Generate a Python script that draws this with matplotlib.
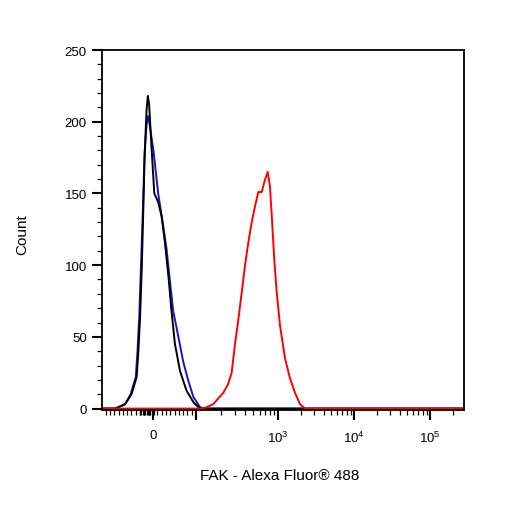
import numpy as np
import matplotlib
matplotlib.use("Agg")
import matplotlib.pyplot as plt

plt.rcParams["font.family"] = ["Liberation Sans", "DejaVu Sans"]
plt.rcParams["mathtext.fontset"] = "custom"
plt.rcParams["mathtext.rm"] = "Liberation Sans"

# --- data (fluorescence value, count) ---
black_x = [-118, -88, -65, -50, -38, -34, -30, -26, -23, -19, -15, -12, -9, -3,
           3, 12, 20, 28, 36, 43, 51, 63, 78, 94, 107, 118, 262143]
black_y = [0, 0, 3, 10, 22, 40, 64, 99, 134, 180, 208, 218, 212, 180,
           150, 144, 134, 115, 92, 68, 45, 26, 12.5, 4.4, 1, 0, 0]

blue_x = [-118, -88, -65, -52, -40, -36, -32, -28, -24, -20, -15, -11,
          1, 12, 24, 32, 40, 47, 59, 70, 82, 94, 112, 125, 262143]
blue_y = [0, 0, 3, 10, 22, 40, 64, 99, 134, 175, 198, 204,
          180, 150, 127, 110, 87, 68, 50, 33, 19.5, 8, 1, 0, 0]

red_x = [-118, 112, 129, 162, 215, 246, 272, 299, 328, 361, 396, 435, 478, 524,
         575, 634, 681, 749, 798, 852, 900, 964, 1062, 1236, 1438, 1673, 1948,
         2265, 262143]
red_y = [0, 0, 0.5, 3, 11, 17, 25, 45, 62, 81, 100, 116, 130, 141,
         151, 151, 158, 165, 155, 128, 104, 81, 58, 35, 21, 11, 3,
         0, 0]

x_major = [0, 100, 1000, 10000, 100000]
x_major_labels = ["0", "", r"$\mathregular{10^{3}}$", r"$\mathregular{10^{4}}$",
                  r"$\mathregular{10^{5}}$"]


# biexponential-like display transform (linear near zero, log above)
def fwd(v):
    v = np.asarray(v, dtype=float)
    lin = v * 0.43
    dec2 = 43 + 82 * np.log10(np.clip(v, 100, None) / 100)
    dec3 = 125 + 76 * np.log10(np.clip(v, 1000, None) / 1000)
    return np.where(v <= 100, lin, np.where(v <= 1000, dec2, dec3))


def inv(p):
    p = np.asarray(p, dtype=float)
    lin = p / 0.43
    dec2 = 100 * 10 ** ((np.clip(p, 43, 125) - 43) / 82)
    dec3 = 1000 * 10 ** ((np.clip(p, 125, 400) - 125) / 76)
    return np.where(p <= 43, lin, np.where(p <= 125, dec2, dec3))


fig = plt.figure(figsize=(5.06, 5.06), dpi=100)
ax = fig.add_axes([102 / 506, 95 / 506, 362 / 506, 360 / 506])
ax.set_xscale("function", functions=(fwd, inv))

ax.plot(blue_x, blue_y, color="#1414d6", lw=1.4)
ax.plot(black_x, black_y, color="black", lw=1.4)
ax.plot(red_x, red_y, color="#ff0000", lw=1.4)

ax.set_xlim(-118.6, 2.8e5)
ax.set_ylim(-1, 250)

# minor ticks
minor = list(np.arange(-110, 0, 10)) + list(np.arange(-30, 6, 3)) + list(np.arange(10, 100, 10))
for d in [100, 1000, 10000]:
    minor += [k * d for k in range(2, 10)]
minor += [200000]
ax.set_xticks(x_major, x_major_labels)
ax.set_xticks(minor, minor=True)
ax.set_yticks(np.arange(0, 251, 50))
ax.set_yticks(np.arange(0, 251, 10), minor=True)

ax.tick_params(axis="both", which="major", length=7, width=1.5, labelsize=9.5,
               direction="out", colors="black")
ax.tick_params(axis="both", which="minor", length=3.5, width=0.9, direction="out")
ax.tick_params(axis="x", which="major", pad=7)
ax.tick_params(axis="y", which="major", pad=4)

for s in ax.spines.values():
    s.set_linewidth(1.3)

ax.set_ylabel("Count", fontsize=11)
ax.yaxis.set_label_coords(-0.200, 0.49)
ax.set_xlabel("FAK - Alexa Fluor® 488", fontsize=11)
ax.xaxis.set_label_coords(0.49, -0.160)

plt.savefig("out.png", dpi=100)
